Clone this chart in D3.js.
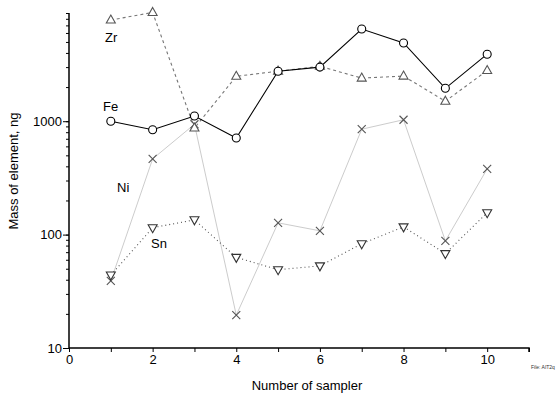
<!DOCTYPE html>
<html>
<head>
<meta charset="utf-8">
<script src="https://cdn.jsdelivr.net/npm/d3@7"></script>
<style>
  body { margin: 0; background: #fff; }
  svg text { font-family: "Liberation Sans", Arial, sans-serif; }
</style>
</head>
<body>
<div id="chart"></div>
<script>
var samplers = [1, 2, 3, 4, 5, 6, 7, 8, 9, 10];
var feValues = [1000, 840, 1110, 710, 2760, 3000, 6500, 4900, 1950, 3900];
var zrValues = [7800, 9100, 870, 2490, 2760, 3050, 2400, 2500, 1500, 2800];
var niValues = [39, 465, 940, 19.5, 127, 108, 850, 1030, 88, 380];
var snValues = [44, 115, 135, 63, 49, 53, 83, 117, 68, 156];
var yTickLabels = [10, 100, 1000];
var xTickLabels = [0, 2, 4, 6, 8, 10];
var seriesNames = ["Zr", "Fe", "Ni", "Sn"];

function drawChart(selector){

    var width = 560, height = 395;

    var svg = d3.select(selector)
        .append("svg")
        .attr("width", width)
        .attr("height", height);

    var x = d3.scaleLinear()
        .domain([0, 11])
        .range([69, 529]);

    var y = d3.scaleLog()
        .domain([10, 9000])
        .range([348, 13]);

    // y axis: minor ticks 1..9 per decade
    var minorY = [];
    [10, 100, 1000].forEach(function(dec){
        for (var k = 1; k <= 9; k++) minorY.push(dec * k);
    });

    var yAxis = svg.append("g")
        .attr("transform", "translate(69,0)")
        .call(d3.axisLeft(y)
            .tickValues(minorY)
            .tickSize(3)
            .tickFormat(""));
    yAxis.select(".domain").remove();

    svg.append("g")
        .attr("transform", "translate(69,0)")
        .call(d3.axisLeft(y)
            .tickValues(yTickLabels)
            .tickSize(6)
            .tickPadding(1)
            .tickFormat(d3.format("d")))
        .call(function(g){ g.select(".domain").remove(); })
        .selectAll("text")
        .attr("font-size", 13)
        .attr("fill", "#000");

    svg.append("line")
        .attr("x1", 69).attr("x2", 69)
        .attr("y1", y(10)).attr("y2", y(9000))
        .attr("stroke", "#000")
        .attr("stroke-width", 1.5);

    // x axis, labels only on even ticks
    svg.append("g")
        .attr("transform", "translate(0,348)")
        .call(d3.axisBottom(x)
            .tickValues(d3.range(0, 12))
            .tickSize(4)
            .tickPadding(3)
            .tickFormat(function(d){ return xTickLabels.indexOf(d) >= 0 ? d : ""; }))
        .call(function(g){
            g.select(".domain").attr("d", "M69,0H529V4").attr("stroke-width", 1.5);
        })
        .selectAll("text")
        .attr("font-size", 13)
        .attr("fill", "#000");

    svg.append("text")
        .attr("x", 307)
        .attr("y", 390)
        .attr("text-anchor", "middle")
        .attr("font-size", 13)
        .text("Number of sampler");

    svg.append("text")
        .attr("transform", "translate(18,171) rotate(-90)")
        .attr("text-anchor", "middle")
        .attr("font-size", 13)
        .text("Mass of element, ng");

    svg.append("text")
        .attr("x", 531)
        .attr("y", 369)
        .attr("font-size", 5)
        .attr("fill", "#333")
        .text("File: AIT2q");

    var line = d3.line()
        .x(function(d){ return x(d.s); })
        .y(function(d){ return y(d.v); });

    function toPoints(vals){
        return samplers.map(function(s, i){ return {s: s, v: vals[i]}; });
    }

    var series = [
        {name: "Ni", vals: niValues, stroke: "#cccccc", dash: null, width: 1, marker: "x", mcol: "#555"},
        {name: "Sn", vals: snValues, stroke: "#555", dash: "1,3", width: 1.1, marker: "down", mcol: "#333"},
        {name: "Zr", vals: zrValues, stroke: "#777", dash: "3,3", width: 1.1, marker: "up", mcol: "#555"},
        {name: "Fe", vals: feValues, stroke: "#000", dash: null, width: 1.1, marker: "circle", mcol: "#000"}
    ];

    series.forEach(function(s){
        var pts = toPoints(s.vals);
        svg.append("path")
            .datum(pts)
            .attr("fill", "none")
            .attr("stroke", s.stroke)
            .attr("stroke-width", s.width)
            .attr("stroke-dasharray", s.dash)
            .attr("d", line);

        var m = svg.selectAll(".m" + s.name)
            .data(pts)
            .enter().append("path")
            .attr("class", "m" + s.name)
            .attr("transform", function(d){ return "translate(" + x(d.s) + "," + y(d.v) + ")"; })
            .attr("stroke", s.mcol)
            .attr("stroke-width", 1.1);

        if (s.marker === "circle") {
            m.attr("d", "M-4,0A4,4 0 1,0 4,0A4,4 0 1,0 -4,0Z").attr("fill", "#fff");
        } else if (s.marker === "up") {
            m.attr("d", "M0,-5L4.5,3L-4.5,3Z").attr("fill", "#fff");
        } else if (s.marker === "down") {
            m.attr("d", "M0,5L4.5,-3L-4.5,-3Z").attr("fill", "#fff");
        } else {
            m.attr("d", "M-4,-4L4,4M-4,4L4,-4").attr("fill", "none");
        }
    });

    var labelPos = {Zr: [105, 42], Fe: [103, 111], Ni: [117, 192], Sn: [151, 248]};
    svg.selectAll(".serieslabel")
        .data(seriesNames)
        .enter().append("text")
        .attr("class", "serieslabel")
        .attr("x", function(d){ return labelPos[d][0]; })
        .attr("y", function(d){ return labelPos[d][1]; })
        .attr("font-size", 13)
        .text(function(d){ return d; });
}

drawChart("#chart");
</script>
</body>
</html>
